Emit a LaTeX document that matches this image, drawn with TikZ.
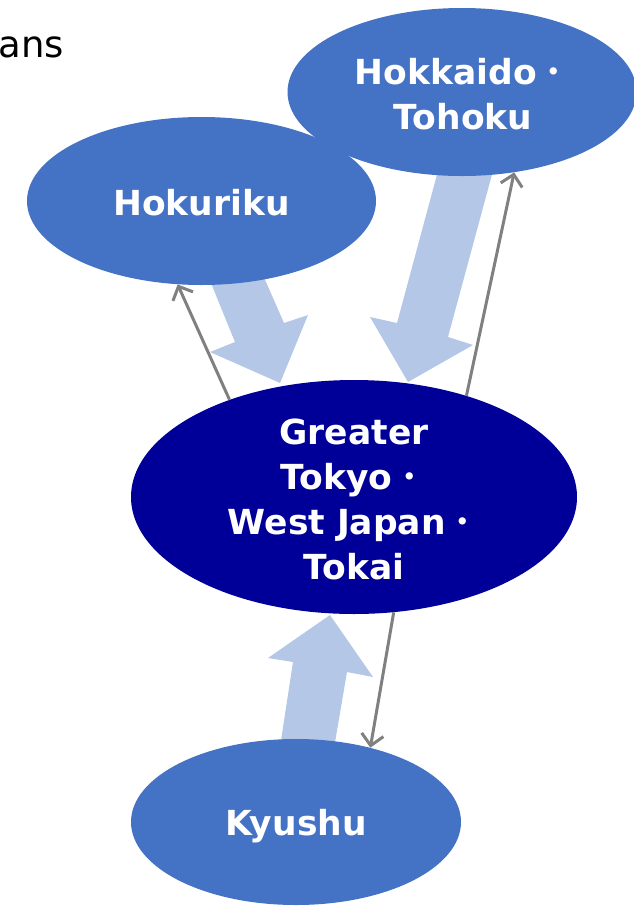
\documentclass[tikz,border=0pt]{standalone}
\usepackage{fontspec}
\setmainfont{DejaVu Sans}
\newfontfamily\cjk{Noto Sans CJK JP}
\usetikzlibrary{shapes.geometric,arrows.meta}
\definecolor{bubble}{HTML}{4472C4}
\definecolor{hub}{HTML}{000099}
\definecolor{flow}{HTML}{B4C7E7}
\definecolor{link}{HTML}{808080}
\newcommand{\jdot}{{\cjk\mdseries ・}}
\tikzset{
  region/.style={ellipse, fill=bubble, draw=none, inner sep=0pt},
  hubregion/.style={ellipse, fill=hub, draw=none, inner sep=0pt},
  label/.style={text=white, align=center, inner sep=0pt, font=\fontsize{34.5}{45}\selectfont\bfseries},
  bigflow/.style={fill=flow, draw=none},
  thin/.style={draw=link, line width=3pt, -{Straight Barb[length=11pt,width=22pt]}}
}
\begin{document}
\begin{tikzpicture}[x=1pt,y=-1pt]
\useasboundingbox (0,0) rectangle (634,906);
% cropped caption text
\node[anchor=base east, inner sep=0pt, font=\fontsize{37}{37}\selectfont] (cap) at (64,57) {ans};
% thick flow arrows
\fill[bigflow] (204,266) -- (259,266) -- (284,323) -- (308,315) -- (280,383) -- (210,352) -- (235,342) -- cycle;
\fill[bigflow] (442,156) -- (497,156) -- (448,337) -- (473,345) -- (408,382) -- (370,317) -- (397,323) -- cycle;
\fill[bigflow] (278,760) -- (332,760) -- (347,672) -- (373,677) -- (330,615) -- (268,658) -- (293,662) -- cycle;
% regions
\node[region, minimum width=349pt, minimum height=168pt] (hk) at (462,92) {};
\node[region, minimum width=349pt, minimum height=168pt] (hr) at (201.5,201) {};
\node[hubregion, minimum width=446pt, minimum height=234pt] (g) at (354,497) {};
\node[region, minimum width=330pt, minimum height=166pt] (ky) at (296,822) {};
\node[label] (hkt) at (463,94) {Hokkaido\jdot\\Tohoku};
\node[label] (hrt) at (201.5,203) {Hokuriku};
\node[label] (gt) at (354,499) {Greater\\Tokyo\jdot\\West Japan\jdot\\Tokai};
\node[label] (kyt) at (296,826) {Kyushu};
% thin return arrows
\draw[thin] (g.142.9) -- (hr.-106.8);
\draw[thin] (g.42.6) -- (hk.-57.3);
\draw[thin] (g.-71.4) -- (ky.45.4);
\end{tikzpicture}
\end{document}
